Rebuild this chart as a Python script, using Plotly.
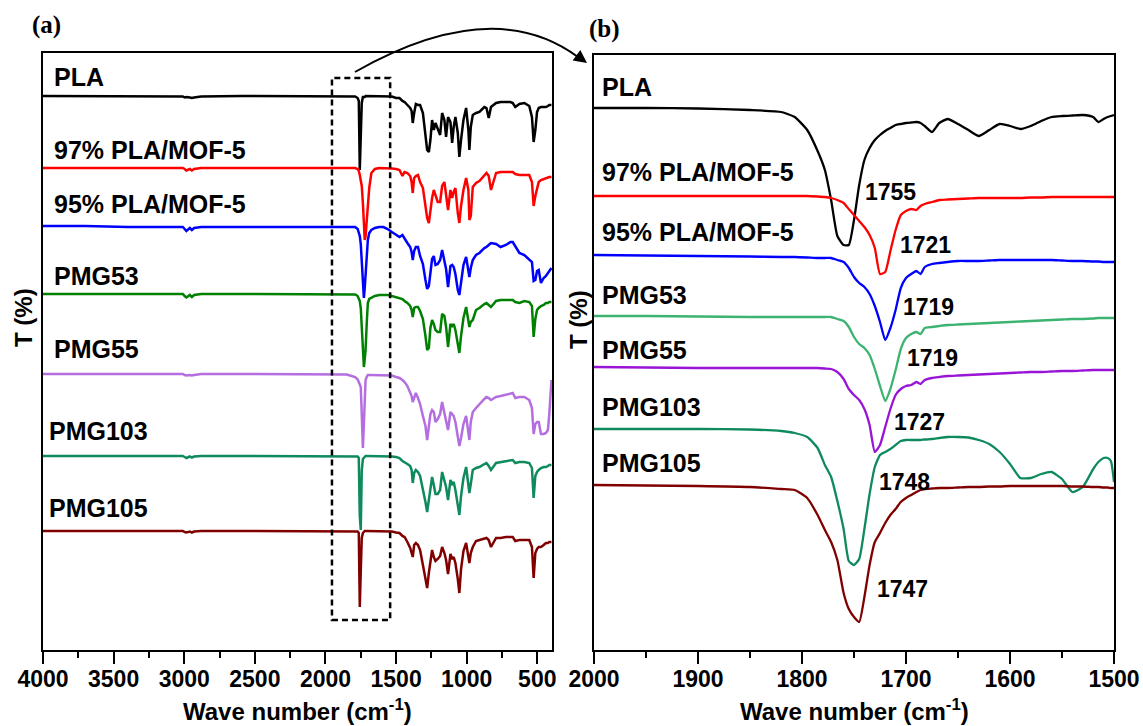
import plotly.graph_objects as go

W, H = 1143, 726
FONT = "Liberation Sans, Arial, sans-serif"

# ---------------- data: full-range spectra (panel a) ----------------
wn_full = [4000, 3700, 3400, 3100, 3010, 2997, 2985, 2960, 2946, 2930,
           2880, 2600, 2300, 2000, 1850, 1790, 1772, 1764, 1757, 1750,
           1743, 1735, 1728, 1722, 1716, 1708, 1700, 1690, 1675, 1650,
           1620, 1590, 1560, 1530, 1500, 1476, 1455, 1440, 1420, 1400,
           1390, 1382, 1372, 1360, 1345, 1330, 1310, 1292, 1280, 1268,
           1257, 1245, 1233, 1221, 1205, 1188, 1174, 1158, 1146, 1132,
           1115, 1103, 1092, 1080, 1063, 1052, 1040, 1023, 1004, 988,
           981, 971, 957, 934, 910, 875, 860, 844, 828, 792,
           760, 722, 690, 674, 656, 627, 592, 557, 538, 526,
           514, 502, 490, 474, 455, 439, 425, 415, 400]

full_pla = [100, 100, 100, 100, 99.5, 98.5, 99, 98.5, 98, 98.5,
            99.5, 100, 100, 100, 100, 99.5, 98, 95, 26, 55,
            93, 99, 99, 99, 100, 100, 100, 100, 100, 100,
            100, 100, 100, 99.5, 98, 98, 95, 94, 91, 88,
            85, 73, 83, 92, 91, 91, 83, 63, 46, 44,
            56, 76, 66, 73, 66, 61, 83, 76, 59, 79,
            74, 53, 69, 79, 63, 39, 56, 76, 88, 66,
            46, 69, 81, 83, 84, 89, 88, 78, 89, 93,
            94, 94, 94, 93, 89, 92, 93, 90, 79, 54,
            66, 84, 88, 89, 89, 89, 90, 91, 91]
full_97 = [100, 100, 100, 100, 100, 99, 97.5, 99, 97.5, 99,
           100, 100, 100, 100, 100, 100, 99, 97, 93, 88,
           82, 65, 45, 28, 32, 45, 61, 80, 95, 99,
           100, 100, 100, 99.5, 99, 98, 92, 96, 95, 92,
           86, 75, 90, 92, 93, 86, 80, 64, 50, 45,
           58, 70, 78, 72, 66, 66, 82, 86, 71, 58,
           78, 70, 76, 80, 55, 45, 62, 78, 90, 78,
           48, 52, 81, 85, 87, 92, 95, 92, 78, 95,
           96, 96, 96, 96, 94, 93, 93, 93, 86, 62,
           72, 80, 86, 88, 89, 90, 90, 91, 91]
full_95 = [100, 100, 99, 99, 99, 97, 95, 98, 96, 98,
           99, 99, 99, 99, 99, 99, 97, 93, 90, 82,
           66, 48, 28, 38, 49, 70, 86, 93, 96, 98,
           99, 99, 97, 94, 91, 89, 91, 87, 83, 79,
           74, 66, 75, 79, 79, 70, 62, 46, 37, 40,
           55, 67, 70, 61, 62, 66, 76, 66, 57, 39,
           60, 61, 59, 52, 36, 31, 45, 61, 69, 57,
           49, 58, 66, 71, 73, 78, 79, 81, 83, 82,
           79, 81, 84, 84, 80, 73, 71, 67, 64, 45,
           46, 55, 56, 43, 48, 50, 53, 56, 58]
full_pmg53 = [100, 100, 100, 100, 100, 98, 96.5, 99, 97, 99,
              100, 100, 100, 100, 100, 99.5, 98, 96, 93, 86,
              70, 41, 27, 35, 44, 70, 91, 95, 96, 98,
              99, 99, 99, 98, 97, 96, 95, 93, 91, 88,
              84, 77, 86, 87, 87, 83, 75, 58, 44, 46,
              66, 74, 70, 64, 62, 62, 80, 78, 67, 47,
              70, 68, 70, 64, 47, 41, 58, 76, 87, 72,
              67, 72, 74, 84, 86, 90, 91, 89, 87, 93,
              94, 94, 94, 94, 92, 91, 93, 92, 88, 57,
              75, 84, 86, 88, 89, 91, 91, 92, 92]
full_pmg55 = [100, 100, 100, 100, 100, 99, 98.5, 99, 98.5, 99,
              100, 100, 100, 100, 99.5, 97, 94.5, 92, 90, 87,
              60, 26, 50, 80, 94, 97, 99, 99, 99, 99,
              99, 99, 99, 98.5, 97, 96, 94, 92, 88, 82,
              78, 72, 77, 81, 76, 70, 58, 48, 34, 48,
              60, 64, 62, 52, 55, 60, 72, 61, 53, 44,
              62, 60, 58, 52, 38, 28, 36, 50, 58, 42,
              34, 52, 62, 66, 70, 75, 77, 76, 74, 77,
              78, 79, 80, 81, 76, 77, 77, 74, 66, 40,
              50, 52, 52, 40, 40, 41, 44, 60, 94]
full_pmg103 = [100, 100, 100, 100, 100, 99, 98, 99.5, 98.5, 99.5,
               100, 100, 100, 100, 100, 100, 99.5, 98, 40, 26,
               85, 97, 98.5, 99.5, 100, 100, 100, 100, 100, 100,
               100, 100, 100, 99.5, 99, 98, 95, 94, 92, 90,
               86, 73, 83, 86, 84, 80, 68, 54, 44, 58,
               66, 79, 71, 62, 62, 66, 84, 75, 69, 56,
               76, 72, 74, 66, 50, 41, 60, 78, 89, 72,
               63, 72, 86, 88, 89, 92, 93, 90, 86, 93,
               94, 95, 96, 96, 93, 94, 94, 93, 88, 58,
               80, 84, 86, 88, 89, 89, 90, 91, 91]
full_pmg105 = [100, 100, 100, 100, 100, 99, 98.5, 99.5, 98.5, 99.5,
               100, 100, 100, 100, 100, 100, 99.5, 98, 24, 60,
               93, 98, 99.5, 100, 100, 100, 100, 100, 100, 100,
               100, 100, 100, 99.5, 98.5, 98, 95, 94, 89, 83,
               78, 74, 86, 88, 86, 81, 66, 50, 43, 58,
               70, 81, 74, 70, 72, 75, 84, 78, 71, 57,
               77, 72, 74, 68, 52, 38, 62, 80, 88, 70,
               68, 78, 84, 90, 91, 93, 93, 91, 84, 93,
               93, 94, 94, 94, 90, 91, 91, 91, 84, 53,
               78, 82, 84, 84, 86, 88, 88, 89, 89]

# ---------------- data: zoomed C=O region (panel b) ----------------
wn_zoom = [2000, 1950, 1900, 1850, 1820, 1807, 1795, 1785, 1778, 1772,
           1766, 1760, 1755, 1750, 1745, 1740, 1735, 1730, 1725, 1720,
           1715, 1710, 1705, 1700, 1695, 1690, 1686, 1682, 1675, 1668,
           1660, 1650, 1640, 1630, 1620, 1610, 1600, 1590, 1580, 1570,
           1560, 1550, 1540, 1530, 1520, 1515, 1510, 1506, 1503, 1500]

zoom_pla = [150, 150, 149.5, 148, 146, 141, 128, 107, 88, 58,
            22, 13, 13, 38, 73, 98, 110, 118, 123, 127,
            130, 133, 134, 135, 135.5, 136, 135, 132, 126, 135,
            139, 134, 128, 122, 128, 134, 132, 129, 132, 137,
            141, 142, 142.5, 143, 141, 136, 139, 141, 142, 143]
zoom_97 = [150, 150, 150, 150, 150, 150, 150, 149.5, 149, 148,
           146, 143, 137, 131, 125, 119, 111, 98, 72, 74,
           95, 116, 131, 135, 137, 136, 140, 142, 144, 146,
           146.5, 147, 147.5, 148, 148, 148, 148, 148, 148.5, 148.5,
           149, 149, 149, 149, 149, 149, 149, 149, 149, 149]
zoom_95 = [150, 149.5, 149, 148.5, 148, 148, 147.5, 147, 147, 147,
           145, 143, 137, 128, 122, 118, 111, 99, 83, 65,
           77, 95, 117, 127, 131, 134, 131, 138, 141, 142,
           143, 144, 144, 144, 144.5, 145, 145, 145, 145, 145,
           145, 144.5, 144, 144, 143.5, 143.5, 143, 143, 143, 143]
zoom_pmg53 = [150, 150, 149.5, 149, 149, 149, 149, 149, 149, 149,
              147, 145, 139, 129, 122, 118, 111, 97, 80, 65,
              77, 96, 117, 128, 132, 134, 132, 138, 139, 140,
              141, 141.5, 142, 142.5, 143, 143.5, 144, 144.5, 145, 145.5,
              146, 146.5, 147, 147, 147.5, 148, 148, 148, 148, 148]
zoom_pmg55 = [150, 149.5, 149, 149, 149, 149, 149, 149, 148.5, 148,
              145, 138, 128, 122, 117, 108, 92, 65, 72, 90,
              108, 122, 128, 131, 132, 135, 133, 137, 139, 140,
              141, 141.5, 142, 142.5, 143, 143.5, 144, 144.5, 145, 145,
              145.5, 146, 146, 146.5, 147, 147, 147, 147, 147, 147]
zoom_pmg103 = [150, 150, 150, 149.5, 148, 146, 142, 131, 114, 102,
               78, 50, 18, 14, 20, 50, 85, 112, 124, 127,
               130, 134, 138, 139, 139, 139, 139, 139.5, 140, 141,
               142, 142, 141.5, 139, 135, 127, 115, 101, 101, 105,
               107, 100, 87, 92, 110, 117, 121, 121, 118, 97]
zoom_pmg105 = [150, 149.5, 149, 148, 146, 145, 137, 120, 105, 93,
               75, 42, 26, 18, 13, 38, 70, 93, 102, 112,
               120, 126, 133, 137, 140, 143, 145, 146, 146.5, 147,
               147, 147.5, 148, 148, 148.5, 148.5, 149, 149, 149, 149,
               149, 149, 148.5, 148.5, 148, 148, 147.5, 147.5, 147, 147]

names = ["PLA", "97% PLA/MOF-5", "95% PLA/MOF-5", "PMG53", "PMG55", "PMG103", "PMG105"]
full_series = [full_pla, full_97, full_95, full_pmg53, full_pmg55, full_pmg103, full_pmg105]
zoom_series = [zoom_pla, zoom_97, zoom_95, zoom_pmg53, zoom_pmg55, zoom_pmg103, zoom_pmg105]
full_offsets = [455, 383, 325, 257, 177, 95, 20]
zoom_offsets = [393, 305, 246, 185, 134, 72, 16]
full_colors = ["#000000", "#ff0000", "#0000ff", "#008000", "#b46ee0", "#0e8a5c", "#800000"]
zoom_colors = ["#000000", "#ff0000", "#0000ff", "#3cb371", "#9a14d6", "#0e8a5c", "#800000"]
peak_labels = ["1755", "1721", "1719", "1719", "1727", "1748", "1747"]

fig = go.Figure()
for s, off, c, n in zip(full_series, full_offsets, full_colors, names):
    fig.add_trace(go.Scatter(x=wn_full, y=[v + off for v in s], mode="lines",
                             line=dict(color=c, width=2.5), name=n,
                             xaxis="x", yaxis="y", showlegend=False))
for s, off, c, n in zip(zoom_series, zoom_offsets, zoom_colors, names):
    fig.add_trace(go.Scatter(x=wn_zoom, y=[v + off for v in s], mode="lines",
                             line=dict(color=c, width=2.3, shape="spline", smoothing=0.5),
                             name=n, xaxis="x2", yaxis="y2", showlegend=False))


def px(x):
    return x / W


def py(y):
    return 1 - y / H


tickfont = dict(family=FONT, size=23, color="black", weight="bold")
common_x = dict(ticks="outside", ticklen=12, tickwidth=2, tickcolor="black",
                showline=True, linewidth=2, linecolor="black", mirror=True,
                showgrid=False, zeroline=False, tickfont=tickfont, automargin=False,
                tickmode="linear", tick0=0, ticklabelstandoff=-5)
common_y = dict(showline=True, linewidth=2, linecolor="black", mirror=True,
                showgrid=False, zeroline=False, ticks="", showticklabels=False,
                automargin=False)

fig.update_layout(
    width=W, height=H, margin=dict(l=0, r=0, t=0, b=0),
    paper_bgcolor="white", plot_bgcolor="white",
    xaxis=dict(domain=[px(43), px(552)], range=[4000, 396], dtick=500, anchor="y",
               minor=dict(ticks="outside", ticklen=6, tickwidth=2, tickcolor="black",
                          dtick=250, tick0=0, showgrid=False), **common_x),
    yaxis=dict(domain=[py(650), py(53)], range=[1, 598], anchor="x", **common_y),
    xaxis2=dict(domain=[px(594), px(1114)], range=[2000, 1500], dtick=100, anchor="y2",
                minor=dict(ticks="outside", ticklen=6, tickwidth=2, tickcolor="black",
                           dtick=50, tick0=0, showgrid=False), **common_x),
    yaxis2=dict(domain=[py(650), py(55)], range=[1, 596], anchor="x2", **common_y),
)

# dashed zoom box in panel (a)
fig.add_shape(type="rect", xref="x", yref="y", x0=1954, x1=1542, y0=31, y1=573,
              line=dict(color="black", width=2.5, dash="6px,4px"))
# curved arrow
fig.add_shape(type="path", xref="paper", yref="paper",
              path=f"M {px(355)},{py(72)} Q {px(493)},{py(-6)} {px(578)},{py(57)}",
              line=dict(color="black", width=2))
fig.add_annotation(x=px(587), y=py(63), xref="paper", yref="paper", ax=-11, ay=-8,
                   text=" ", showarrow=True, arrowhead=2, arrowsize=1.3, arrowwidth=2,
                   arrowcolor="black", font=dict(size=2))

label_font = dict(family=FONT, size=25, color="black", weight="bold")
num_font = dict(family=FONT, size=23, color="black", weight="bold")


def txt(x, y, t, font, xanchor="left", angle=0, yanchor="middle"):
    fig.add_annotation(x=px(x), y=py(y), xref="paper", yref="paper", text=t,
                       showarrow=False, font=font, xanchor=xanchor, yanchor=yanchor,
                       textangle=angle, borderpad=0)


# panel labels
serif = dict(family="Liberation Serif, Times New Roman, serif", size=25, color="black", weight="bold")
txt(46, 25, "(a)", serif, "center")
txt(604, 29, "(b)", serif, "center")

# curve labels
left_label_y = [77, 150, 204, 276, 349, 431, 508]
left_label_x = [53, 53, 53, 53, 53, 48, 48]
for n, x, y in zip(names, left_label_x, left_label_y):
    txt(x, y, n, label_font)
right_label_y = [87, 172, 232, 295, 350, 407, 463]
for n, y in zip(names, right_label_y):
    txt(601, y, n, label_font)

# peak positions
peak_xy = [(891, 192), (925, 245), (928, 307), (932, 358), (919, 422), (904, 482), (902, 589)]
for t, (x, y) in zip(peak_labels, peak_xy):
    txt(x, y, t, num_font, "center")

# axis titles
title_font = dict(family=FONT, size=24, color="black", weight="bold")
txt(297, 726, "Wave number (cm<sup>-1</sup>)", title_font, "center", yanchor="bottom")
txt(854, 726, "Wave number (cm<sup>-1</sup>)", title_font, "center", yanchor="bottom")
txt(23, 318, "T (%)", title_font, "center", -90)
txt(578, 320, "T (%)", title_font, "center", -90)

fig.write_html("out.html")
